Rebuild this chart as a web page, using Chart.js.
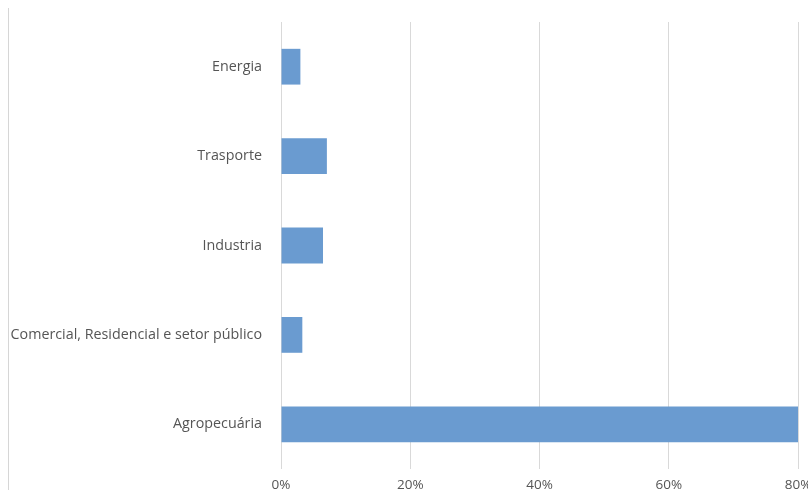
<!DOCTYPE html>
<html>
<head>
<meta charset="utf-8">
<script src="https://cdn.jsdelivr.net/npm/chart.js@4/dist/chart.umd.min.js"></script>
<style>
  html, body { margin: 0; padding: 0; background: #fff; overflow: hidden; }
  #frame { position: absolute; left: 8px; top: 8px; width: 1px; height: 482px; background: #d6d6d6; }
  #wrap { position: absolute; left: 9px; top: 0; width: 801px; height: 490px; }
</style>
</head>
<body>
<div id="frame"></div>
<div id="wrap"><canvas id="chart"></canvas></div>
<script>
// setores e participação (%)
const sectors = ["Energia", "Trasporte", "Industria", "Comercial, Residencial e setor público", "Agropecuária"];
const shares = [3.0, 7.1, 6.5, 3.3, 80.0];
const xTicks = [0, 20, 40, 60, 80];

const labelColor = "#555555";
const fontFamily = "'Open Sans', sans-serif";

new Chart(document.getElementById("chart"), {
    type: "bar",
    data: {
        labels: sectors,
        datasets: [{
            data: shares,
            backgroundColor: "#6a9bd0",
            borderWidth: 0,
            categoryPercentage: 0.8,
            barPercentage: 0.5,
        }],
    },
    options: {
        indexAxis: "y",
        responsive: true,
        maintainAspectRatio: false,
        animation: false,
        layout: { padding: { top: 22, right: 12, bottom: 0, left: 0 } },
        plugins: {
            legend: { display: false },
            tooltip: { enabled: false },
        },
        scales: {
            x: {
                min: xTicks[0],
                max: xTicks[xTicks.length - 1],
                afterBuildTicks: (axis) => {
                    axis.ticks = xTicks.map((v) => ({ value: v }));
                },
                afterFit: (axis) => {
                    axis.height = 21;
                    axis.paddingLeft = 0;
                    axis.paddingRight = 0;
                },
                grid: { color: "#d9d9d9", lineWidth: 1, drawTicks: false },
                border: { display: false },
                ticks: {
                    padding: 8,
                    color: labelColor,
                    font: { family: fontFamily, size: 13.5 },
                    callback: (v) => v + "%",
                },
            },
            y: {
                afterFit: (axis) => {
                    axis.width = 272;
                    axis.paddingTop = 0;
                    axis.paddingBottom = 0;
                },
                grid: { display: false, drawTicks: false },
                border: { display: false },
                ticks: {
                    padding: 19,
                    color: labelColor,
                    font: { family: fontFamily, size: 14.3 },
                },
            },
        },
    },
});
</script>
</body>
</html>
